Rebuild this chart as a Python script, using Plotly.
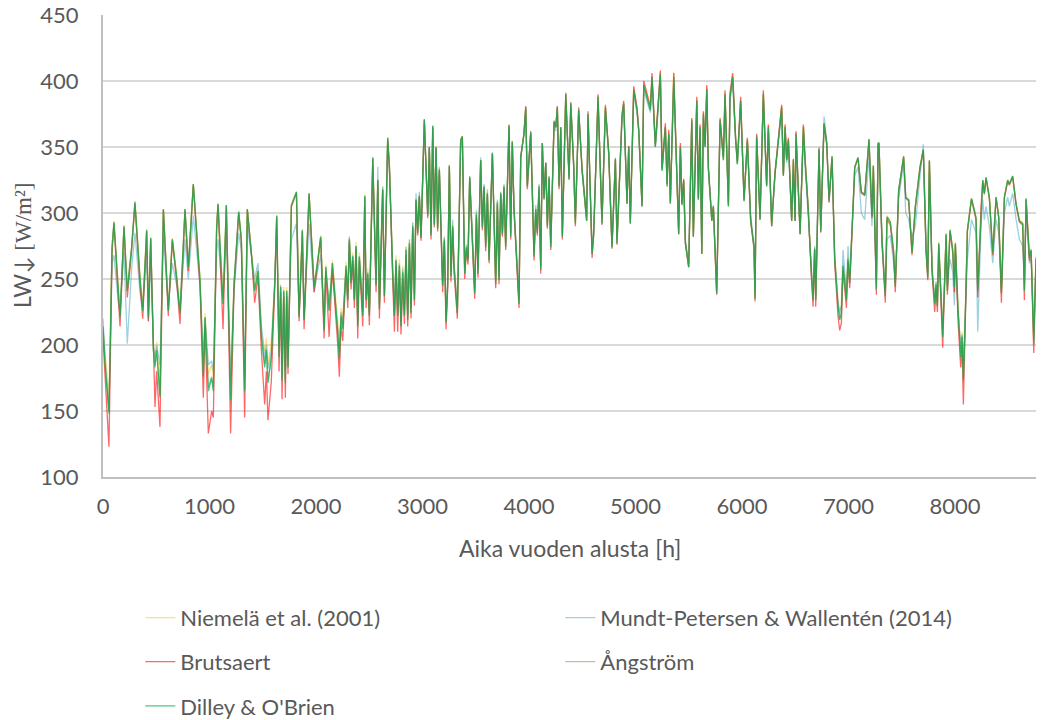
import plotly.graph_objects as go

# Hour of the year for each sample
hours = [
    0, 19, 56, 85, 103, 144, 160, 197, 228, 269, 300, 347, 373, 410, 426, 448, 473, 488, 504, 535,
    567, 613, 651, 692, 723, 770, 801, 848, 911, 942, 958, 989, 1020, 1036, 1067,
    1080, 1127, 1158, 1198, 1230, 1274, 1299, 1330, 1355, 1393, 1424, 1455, 1487, 1518, 1534, 1549, 1580, 1612, 1631, 1653,
    1668, 1681, 1697, 1712, 1725, 1737, 1769, 1816, 1841, 1872, 1888, 1935, 1982, 2013, 2044, 2076, 2092, 2123, 2154,
    2204, 2219, 2235, 2251, 2282, 2298, 2313, 2329, 2345, 2360, 2376, 2392, 2407, 2439, 2458, 2470, 2486, 2501, 2533, 2548,
    2564, 2580, 2595, 2626, 2642, 2673, 2689, 2720, 2736, 2751, 2767, 2783, 2798, 2814, 2830, 2845, 2861, 2877, 2892, 2908,
    2924, 2939, 2955, 2970, 2986, 3017, 3049, 3064, 3080, 3096, 3111, 3127, 3142, 3158, 3189, 3205, 3221, 3236, 3252, 3267,
    3283,
    3296, 3327, 3358, 3374, 3396, 3412, 3427, 3443, 3474, 3490, 3506, 3521, 3546, 3562, 3578, 3593, 3609, 3625, 3656, 3687,
    3703, 3718, 3734, 3750, 3765, 3781, 3812, 3828, 3843, 3859, 3906, 3922, 3953, 3969, 3984, 4016, 4047, 4063, 4078, 4094,
    4110, 4125, 4141, 4157, 4172, 4188, 4204, 4235, 4251, 4266, 4282, 4298, 4313, 4345, 4376, 4392,
    4419, 4435, 4466, 4498, 4541, 4554, 4592, 4607, 4648, 4685, 4717, 4748, 4779, 4811, 4826, 4873, 4889, 4920, 4936, 4951,
    4983, 5014, 5030, 5061, 5077, 5108, 5139, 5155, 5186, 5233, 5249, 5280, 5296, 5312, 5327, 5359, 5390, 5405, 5421, 5436,
    5452, 5468, 5499,
    5528, 5543, 5575, 5590, 5606, 5622, 5637, 5653, 5669, 5684, 5716, 5731, 5762, 5794, 5825, 5840, 5872, 5887, 5912, 5940,
    5956, 5987, 6019, 6050, 6081, 6112, 6122, 6137, 6169, 6200, 6231, 6247, 6278, 6310, 6372, 6388, 6404, 6419, 6435, 6466,
    6482, 6498, 6507, 6545, 6576, 6592, 6620,
    6651, 6667, 6682, 6692, 6723, 6739, 6770, 6795, 6817, 6845, 6870, 6901, 6917, 6933, 6948, 6980, 6995, 7011, 7058, 7089,
    7120, 7152, 7192, 7220, 7233, 7261, 7277, 7286, 7314, 7345, 7361, 7392, 7423, 7439, 7470, 7517, 7537, 7565, 7596, 7627,
    7671, 7702, 7728,
    7744, 7759, 7784, 7809, 7822, 7834, 7847, 7884, 7916, 7928, 7953, 7978, 7994, 8003, 8028, 8053, 8066, 8078, 8091, 8116,
    8154, 8182, 8197, 8213, 8244, 8260, 8275, 8291, 8322, 8354, 8385, 8410, 8435, 8463, 8494, 8510, 8541, 8573, 8604, 8635,
    8651, 8667, 8698, 8714, 8739, 8760,
]

# Incoming longwave radiation [W/m2] by model
niemela = [
    212, 192, 160, 276, 294, 243, 224, 291, 244, 275, 308, 253, 230, 288, 224, 282, 200, 192, 202, 170,
    303, 229, 281, 253, 227, 303, 261, 322, 251, 185, 224, 178, 185, 175, 290,
    307, 235, 306, 170, 248, 301, 281, 175, 303, 273, 245, 258, 212, 195, 205, 185, 202, 248, 298, 198,
    246, 185, 244, 182, 244, 190, 306, 316, 224, 288, 222, 315, 246, 264, 283, 215, 261, 230, 264,
    218, 198, 228, 220, 263, 240, 282, 252, 270, 240, 278, 220, 270, 228, 314, 238, 258, 228, 342, 300,
    250, 326, 232, 320, 242, 357, 337, 258, 228, 268, 228, 265, 220, 260, 228, 275, 224, 280, 228, 292,
    238, 311, 287, 314, 283, 371, 300, 351, 285, 366, 293, 351, 290, 334, 248, 282, 222, 248, 337, 256,
    292,
    262, 228, 355, 358, 258, 276, 266, 328, 272, 242, 300, 257, 340, 290, 321, 276, 316, 266, 345, 248,
    309, 251, 316, 285, 321, 276, 366, 284, 355, 304, 234, 343, 360, 380, 321, 361, 270, 304, 287, 321,
    260, 353, 312, 338, 292, 328, 276, 369, 365, 380, 321, 365, 284, 390, 327, 383,
    337, 294, 378, 333, 295, 375, 271, 285, 388, 294, 380, 346, 276, 341, 279, 373, 383, 308, 350, 293,
    394, 378, 363, 306, 397, 388, 379, 404, 351, 407, 333, 366, 321, 361, 308, 407, 329, 285, 351, 307,
    325, 278, 260,
    371, 283, 386, 311, 366, 270, 376, 351, 395, 334, 295, 305, 240, 371, 341, 391, 306, 389, 404, 356,
    338, 386, 310, 356, 295, 275, 236, 359, 296, 391, 321, 366, 291, 331, 381, 329, 366, 341, 356, 295,
    341, 295, 361, 285, 366, 341, 306,
    256, 237, 274, 237, 348, 287, 368, 353, 311, 343, 268, 234, 226, 230, 262, 238, 267, 250, 335, 342,
    316, 314, 356, 298, 336, 245, 353, 353, 281, 240, 298, 294, 272, 247, 317, 343, 312, 310, 271, 305,
    335, 348, 273,
    253, 340, 259, 235, 248, 232, 278, 212, 285, 244, 288, 273, 246, 278, 230, 197, 210, 182, 210, 288,
    311, 302, 297, 243, 306, 325, 315, 327, 312, 271, 312, 298, 242, 312, 325, 322, 328, 307, 295, 293,
    244, 311, 268, 273, 208, 268,
]

mundt = [
    220, 190, 150, 262, 268, 232, 225, 270, 201, 258, 285, 240, 228, 270, 218, 265, 200, 190, 200, 185,
    282, 230, 262, 245, 226, 280, 250, 298, 245, 190, 220, 185, 188, 180, 270,
    280, 235, 285, 175, 240, 285, 272, 178, 290, 268, 250, 262, 215, 190, 200, 182, 195, 245, 290, 200,
    245, 185, 240, 182, 240, 190, 280, 292, 225, 270, 222, 292, 240, 255, 268, 220, 255, 232, 255,
    212, 195, 225, 215, 258, 236, 282, 248, 268, 235, 275, 218, 266, 225, 305, 235, 255, 225, 335, 295,
    246, 335, 230, 320, 238, 355, 333, 256, 225, 265, 225, 262, 218, 258, 226, 274, 222, 280, 228, 293,
    238, 315, 288, 316, 282, 368, 300, 350, 285, 364, 292, 350, 290, 335, 248, 282, 220, 248, 335, 255,
    295,
    262, 228, 350, 355, 258, 276, 266, 328, 272, 242, 302, 258, 342, 292, 322, 278, 318, 268, 346, 250,
    310, 252, 316, 286, 322, 277, 365, 285, 354, 305, 235, 343, 360, 378, 322, 360, 270, 306, 288, 322,
    260, 352, 313, 338, 293, 328, 277, 366, 362, 376, 322, 362, 285, 386, 328, 380,
    340, 296, 375, 335, 298, 372, 272, 288, 384, 296, 377, 347, 277, 342, 280, 370, 380, 310, 350, 295,
    390, 375, 362, 308, 393, 385, 376, 398, 350, 400, 333, 364, 322, 358, 309, 398, 330, 288, 350, 308,
    325, 280, 262,
    368, 286, 382, 312, 362, 272, 372, 350, 390, 335, 298, 306, 242, 368, 342, 386, 308, 385, 398, 355,
    338, 382, 312, 354, 298, 277, 240, 356, 298, 386, 322, 362, 293, 331, 376, 330, 360, 338, 350, 296,
    330, 296, 355, 288, 360, 335, 300,
    258, 238, 275, 238, 350, 290, 373, 355, 308, 340, 268, 232, 224, 230, 272, 240, 275, 252, 328, 335,
    300, 295, 345, 290, 325, 248, 345, 345, 275, 240, 280, 283, 262, 250, 310, 338, 300, 295, 282, 290,
    328, 352, 275,
    255, 330, 258, 235, 248, 232, 272, 212, 270, 245, 265, 255, 230, 270, 225, 200, 208, 185, 210, 265,
    295, 288, 285, 210, 290, 310, 295, 305, 290, 262, 295, 285, 242, 300, 312, 305, 315, 295, 280, 275,
    250, 300, 262, 265, 210, 262,
]

brutsaert = [
    205, 175, 123, 270, 292, 235, 214, 289, 236, 272, 307, 246, 220, 286, 218, 280, 185, 153, 180, 138,
    302, 222, 279, 248, 216, 302, 256, 321, 244, 160, 215, 133, 150, 145, 288,
    306, 212, 305, 133, 242, 300, 278, 145, 302, 270, 232, 252, 196, 155, 180, 143, 172, 242, 297, 180,
    240, 159, 237, 160, 237, 178, 305, 315, 218, 286, 212, 314, 240, 260, 281, 205, 256, 206, 258,
    200, 176, 215, 203, 257, 228, 278, 242, 264, 228, 273, 205, 264, 214, 312, 228, 250, 215, 341, 296,
    240, 324, 220, 317, 232, 355, 334, 250, 210, 260, 210, 256, 208, 250, 216, 268, 214, 274, 220, 288,
    230, 309, 283, 312, 279, 370, 296, 349, 280, 365, 289, 349, 286, 332, 240, 278, 212, 242, 335, 248,
    288,
    255, 220, 355, 358, 250, 272, 261, 326, 266, 235, 297, 251, 340, 287, 319, 271, 314, 262, 345, 243,
    306, 246, 314, 282, 319, 272, 367, 280, 354, 301, 228, 342, 361, 381, 318, 362, 264, 301, 283, 318,
    254, 353, 310, 338, 288, 326, 272, 370, 365, 381, 318, 365, 280, 391, 325, 384,
    336, 290, 380, 333, 294, 377, 266, 283, 390, 291, 382, 346, 273, 341, 276, 375, 385, 307, 351, 292,
    396, 380, 364, 305, 400, 390, 381, 406, 352, 408, 334, 368, 322, 363, 308, 406, 330, 284, 353, 307,
    326, 277, 259,
    372, 282, 388, 311, 367, 269, 377, 352, 397, 335, 294, 305, 238, 372, 342, 393, 306, 391, 406, 357,
    339, 388, 310, 357, 294, 274, 233, 360, 295, 393, 321, 367, 290, 331, 382, 329, 367, 341, 357, 294,
    341, 294, 362, 284, 367, 341, 305,
    252, 229, 272, 229, 349, 285, 367, 352, 308, 342, 262, 222, 211, 217, 257, 228, 263, 243, 334, 341,
    315, 313, 355, 296, 335, 238, 352, 352, 278, 232, 295, 291, 268, 240, 316, 342, 311, 309, 268, 304,
    334, 347, 270,
    249, 339, 255, 225, 243, 225, 276, 198, 283, 238, 286, 270, 240, 276, 218, 183, 200, 155, 200, 286,
    310, 301, 295, 236, 305, 324, 314, 326, 311, 268, 311, 296, 232, 311, 324, 321, 327, 306, 293, 291,
    234, 310, 264, 271, 194, 264,
]

angstrom = [
    214, 186, 150, 274, 293, 241, 221, 290, 241, 274, 309, 251, 226, 287, 221, 281, 196, 185, 196, 162,
    303, 226, 280, 251, 224, 303, 259, 322, 249, 178, 221, 168, 176, 167, 289,
    307, 231, 306, 160, 246, 301, 280, 167, 303, 272, 241, 256, 207, 185, 197, 173, 191, 246, 298, 192,
    244, 175, 241, 173, 241, 184, 306, 316, 221, 287, 219, 315, 244, 262, 282, 211, 259, 226, 262,
    210, 190, 223, 213, 260, 234, 280, 247, 267, 234, 275, 215, 267, 223, 313, 234, 254, 223, 342, 298,
    245, 325, 228, 318, 237, 357, 336, 255, 223, 264, 223, 260, 215, 255, 223, 272, 220, 277, 225, 290,
    235, 310, 285, 313, 281, 371, 298, 350, 283, 366, 291, 350, 288, 333, 245, 280, 218, 245, 336, 252,
    290,
    259, 225, 355, 358, 254, 274, 264, 327, 269, 239, 299, 254, 340, 289, 320, 274, 315, 264, 345, 246,
    308, 249, 315, 284, 320, 274, 366, 282, 354, 303, 232, 342, 360, 380, 320, 361, 267, 303, 285, 320,
    257, 353, 311, 338, 290, 327, 274, 369, 365, 380, 320, 365, 282, 390, 326, 383,
    336, 292, 378, 332, 294, 375, 269, 284, 388, 292, 380, 345, 274, 340, 277, 373, 383, 307, 350, 292,
    393, 378, 362, 305, 397, 388, 378, 403, 350, 405, 332, 365, 320, 360, 307, 403, 328, 284, 350, 306,
    324, 277, 259,
    370, 282, 385, 310, 365, 269, 375, 350, 394, 333, 294, 304, 239, 370, 340, 390, 305, 388, 403, 355,
    337, 385, 309, 355, 294, 274, 235, 358, 295, 390, 320, 365, 290, 330, 380, 328, 365, 340, 355, 294,
    340, 294, 360, 284, 365, 340, 305,
    254, 234, 273, 234, 348, 286, 368, 353, 310, 343, 265, 230, 220, 225, 260, 235, 265, 247, 335, 342,
    316, 314, 356, 298, 336, 243, 353, 353, 280, 238, 297, 293, 271, 245, 317, 343, 312, 310, 270, 305,
    335, 348, 272,
    251, 340, 257, 232, 246, 230, 277, 207, 284, 241, 287, 272, 244, 277, 227, 193, 207, 175, 207, 287,
    311, 302, 296, 241, 306, 325, 315, 327, 312, 270, 312, 297, 240, 312, 325, 322, 328, 307, 294, 292,
    242, 311, 266, 272, 203, 266,
]

dilley = [
    214, 186, 148, 274, 293, 241, 221, 290, 241, 274, 308, 251, 226, 287, 221, 281, 196, 183, 196, 160,
    303, 226, 280, 251, 224, 303, 259, 322, 249, 176, 221, 165, 175, 165, 289,
    307, 231, 306, 158, 246, 301, 280, 165, 303, 272, 241, 256, 206, 183, 196, 171, 190, 246, 298, 191,
    244, 173, 241, 171, 241, 183, 306, 316, 221, 287, 219, 315, 244, 262, 282, 211, 259, 226, 262,
    209, 189, 222, 212, 260, 234, 280, 247, 267, 234, 275, 214, 267, 222, 313, 234, 254, 222, 342, 298,
    245, 325, 227, 318, 237, 357, 336, 255, 222, 264, 222, 260, 214, 255, 222, 272, 219, 277, 224, 290,
    234, 310, 285, 313, 281, 371, 298, 350, 283, 366, 291, 350, 288, 333, 245, 280, 217, 245, 336, 252,
    290,
    259, 224, 355, 358, 254, 274, 264, 327, 269, 239, 299, 254, 340, 289, 320, 274, 315, 264, 345, 246,
    308, 249, 315, 284, 320, 274, 366, 282, 354, 303, 231, 342, 360, 380, 320, 361, 267, 303, 285, 320,
    257, 353, 311, 338, 290, 327, 274, 369, 365, 380, 320, 365, 282, 390, 326, 383,
    336, 292, 378, 332, 294, 375, 269, 284, 388, 292, 380, 345, 274, 340, 277, 373, 383, 307, 350, 292,
    393, 378, 362, 305, 397, 388, 378, 403, 350, 405, 332, 365, 320, 360, 307, 403, 328, 284, 350, 306,
    324, 277, 259,
    370, 282, 385, 310, 365, 269, 375, 350, 394, 333, 294, 304, 239, 370, 340, 390, 305, 388, 403, 355,
    337, 385, 309, 355, 294, 274, 235, 358, 295, 390, 320, 365, 290, 330, 380, 328, 365, 340, 355, 294,
    340, 294, 360, 284, 365, 340, 305,
    254, 234, 273, 234, 348, 286, 368, 353, 310, 343, 265, 229, 219, 224, 260, 234, 265, 247, 335, 342,
    316, 314, 356, 298, 336, 242, 353, 353, 280, 237, 297, 293, 271, 244, 317, 343, 312, 310, 270, 305,
    335, 348, 272,
    251, 340, 257, 231, 246, 229, 277, 206, 284, 241, 287, 272, 244, 277, 226, 191, 206, 173, 206, 287,
    311, 302, 296, 241, 306, 325, 315, 327, 312, 270, 312, 297, 239, 312, 325, 322, 328, 307, 294, 292,
    241, 311, 266, 272, 201, 266,
]

FONT = "Lato, 'Open Sans', sans-serif"
GREY = "#595959"

# name, values, line colour, legend row
series = [
    ("Niemelä et al. (2001)", niemela, "rgba(255,192,0,0.5)", "legend"),
    ("Mundt-Petersen & Wallentén (2014)", mundt, "rgba(75,172,198,0.55)", "legend"),
    ("Brutsaert", brutsaert, "rgba(255,0,0,0.6)", "legend2"),
    ("Ångström", angstrom, "rgba(148,138,84,0.55)", "legend2"),
    ("Dilley & O'Brien", dilley, "rgba(0,176,80,0.7)", "legend3"),
]

fig = go.Figure()
for name, vals, color, leg in series:
    fig.add_trace(go.Scatter(
        x=hours, y=vals, mode="lines", name=name,
        line=dict(color=color, width=1.3),
        legend=leg, hoverinfo="skip",
    ))

legend_style = dict(
    orientation="h", xref="paper", yref="paper",
    x=0.04, xanchor="left", yanchor="middle",
    entrywidth=375, entrywidthmode="pixels",
    font=dict(family=FONT, size=22, color=GREY),
    bgcolor="rgba(0,0,0,0)", borderwidth=0,
)

fig.update_layout(
    width=1042, height=720, autosize=False,
    margin=dict(l=103, r=6, t=15, b=243, autoexpand=False),
    paper_bgcolor="white", plot_bgcolor="white",
    font=dict(family=FONT, color=GREY),
    showlegend=True,
    legend=dict(legend_style, y=-0.305),
    legend2=dict(legend_style, y=-0.400),
    legend3=dict(legend_style, y=-0.496),
    xaxis=dict(
        range=[0, 8760], tick0=0, dtick=1000,
        showgrid=False, zeroline=False, automargin=False,
        showline=True, linecolor="#BFBFBF", linewidth=2,
        ticks="", ticklabelstandoff=9,
        tickfont=dict(family=FONT, size=22, color=GREY),
    ),
    yaxis=dict(
        range=[100, 450], tick0=100, dtick=50,
        showgrid=True, gridcolor="#D9D9D9", gridwidth=1.8,
        zeroline=False, automargin=False,
        showline=True, linecolor="#BFBFBF", linewidth=2,
        ticks="", ticklabelstandoff=18,
        tickfont=dict(family=FONT, size=22, color=GREY),
    ),
    annotations=[
        dict(
            text="Aika vuoden alusta [h]",
            xref="paper", yref="paper", x=0.5005, y=-0.1537,
            xanchor="center", yanchor="middle", showarrow=False,
            font=dict(family=FONT, size=23, color=GREY),
        ),
        dict(
            text="LW↓ <span style='font-family:Liberation Serif, serif'>[W/m²]</span>",
            xref="paper", yref="paper", x=-0.0868, y=0.5,
            xanchor="center", yanchor="middle", textangle=-90, showarrow=False,
            font=dict(family=FONT, size=23, color=GREY),
        ),
    ],
)

fig.write_html("out.html")
